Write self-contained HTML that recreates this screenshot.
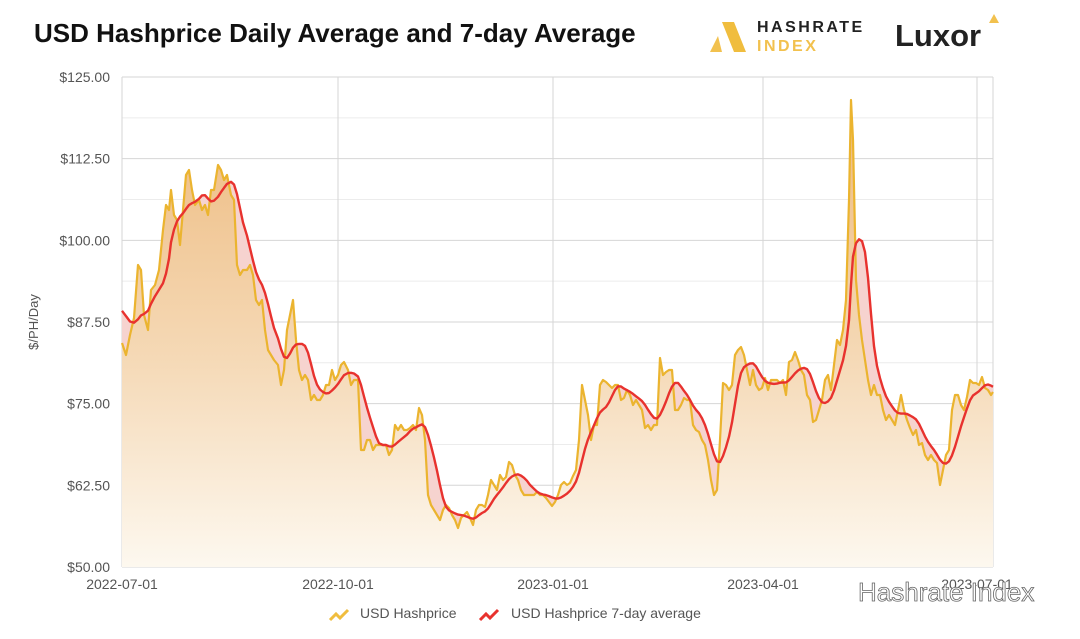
<!DOCTYPE html>
<html><head><meta charset="utf-8"><style>
body{margin:0;background:#fff;width:1080px;height:634px;overflow:hidden;font-family:"Liberation Sans",sans-serif}
</style></head><body>
<svg id="s" width="1080" height="634" xmlns="http://www.w3.org/2000/svg" font-family="Liberation Sans, sans-serif">
<defs>
<linearGradient id="g" gradientUnits="userSpaceOnUse" x1="0" y1="150" x2="0" y2="567">
<stop offset="0" stop-color="#efc089"/><stop offset="0.5" stop-color="#f5d9b6"/><stop offset="1" stop-color="#fdf8ef"/></linearGradient>
</defs>
<text x="34" y="42" font-size="26" font-weight="bold" fill="#111">USD Hashprice Daily Average and 7-day Average</text>
<polygon points="710,52 718,36 722,52" fill="#f2c14e"/><polygon points="722,22 734,22 746,52 734,52" fill="#f0bd3e"/>
<text x="757" y="32" font-size="16" font-weight="bold" fill="#222" letter-spacing="2.5">HASHRATE</text>
<text x="757" y="51" font-size="16" font-weight="bold" fill="#f2c14e" letter-spacing="2.5">INDEX</text>
<text x="895" y="46" font-size="31" font-weight="bold" fill="#222">Luxor</text>
<polygon points="989,23 994,14 999,23" fill="#f2c14e"/>
<g id="grid"></g>
<g id="plot"></g>
<text transform="translate(38,322) rotate(-90)" font-size="13" fill="#555" text-anchor="middle">$/PH/Day</text>
<g font-size="14" fill="#555">
<text x="122" y="589" text-anchor="middle">2022-07-01</text>
<text x="338" y="589" text-anchor="middle">2022-10-01</text>
<text x="553" y="589" text-anchor="middle">2023-01-01</text>
<text x="763" y="589" text-anchor="middle">2023-04-01</text>
<text x="977" y="589" text-anchor="middle">2023-07-01</text>
</g>
<text x="858" y="601" font-size="26" fill="#fff" stroke="#666" stroke-width="0.8">Hashrate Index</text>
<g font-size="14" fill="#555">
<path d="M330,620 l6,-6 l4,4 l8,-8" stroke="#f0bd3e" stroke-width="3" fill="none"/>
<text x="360" y="618">USD Hashprice</text>
<path d="M480,620 l6,-6 l4,4 l8,-8" stroke="#e8322e" stroke-width="3" fill="none"/>
<text x="511" y="618">USD Hashprice 7-day average</text>
</g>
</svg>
<script>
var NS="http://www.w3.org/2000/svg";
function el(p,t,a){var e=document.createElementNS(NS,t);for(var k in a)e.setAttribute(k,a[k]);p.appendChild(e);return e;}
var grid=document.getElementById('grid'),plot=document.getElementById('plot'),svg=document.getElementById('s');
var labels=["$125.00","$112.50","$100.00","$87.50","$75.00","$62.50","$50.00"];
for(var i=0;i<=12;i++){var y=77+i*40.83;el(grid,'line',{x1:122,x2:993,y1:y,y2:y,stroke:i%2?"#ececec":"#d6d6d6","stroke-width":1});
if(i%2==0){var t=el(svg,'text',{x:110,y:y+5,"font-size":14,fill:"#555","text-anchor":"end"});t.textContent=labels[i/2];}}
[122,338,553,763,977,993].forEach(function(x){el(grid,'line',{x1:x,x2:x,y1:77,y2:567,stroke:"#d6d6d6"});});
var d=[[122,343],[126,355],[130,335],[134,318],[138,265],[141,270],[144,315],[148,330],[151,290],[155,285],[159,270],[163,230],[166,205],[169,210],[171,190],[174,215],[177,220],[180,245],[183,210],[186,175],[189,170],[192,190],[195,205],[199,200],[202,210],[205,205],[208,215],[211,190],[214,190],[218,165],[221,170],[224,180],[227,175],[231,195],[234,200],[237,265],[240,275],[243,270],[247,270],[250,265],[253,275],[256,300],[259,305],[262,300],[265,330],[268,350],[271,355],[274,360],[278,365],[281,385],[284,370],[287,330],[290,315],[293,300],[296,340],[299,370],[302,380],[305,375],[308,380],[311,400],[314,395],[317,400],[320,400],[323,395],[326,385],[329,385],[332,370],[335,380],[338,375],[341,365],[344,362],[348,370],[351,385],[354,380],[358,380],[361,450],[364,450],[367,440],[370,440],[373,450],[376,445],[379,445],[383,445],[386,445],[389,455],[392,450],[395,425],[398,430],[401,425],[404,430],[407,430],[410,428],[413,425],[416,430],[419,408],[422,415],[425,440],[428,495],[431,505],[434,510],[437,515],[440,520],[443,510],[446,505],[449,508],[452,515],[455,520],[458,528],[461,518],[464,515],[467,512],[470,518],[473,525],[476,510],[479,505],[482,505],[485,507],[488,495],[491,480],[494,485],[497,490],[500,475],[503,480],[506,477],[509,462],[512,465],[515,475],[518,480],[521,490],[524,495],[527,495],[530,495],[534,495],[537,492],[540,495],[543,495],[546,498],[549,502],[552,506],[555,502],[558,495],[561,485],[564,482],[567,485],[570,483],[573,476],[576,470],[579,440],[582,385],[585,400],[588,415],[591,440],[594,425],[597,425],[600,385],[603,380],[606,382],[609,385],[612,388],[615,385],[618,385],[621,400],[624,398],[627,390],[630,395],[633,405],[636,400],[639,405],[642,410],[645,428],[648,425],[651,430],[654,425],[657,425],[660,358],[663,375],[666,372],[669,370],[672,370],[675,410],[678,410],[681,405],[684,398],[687,400],[690,400],[693,425],[696,430],[699,432],[702,440],[705,445],[708,460],[711,480],[714,495],[717,490],[720,440],[723,383],[726,385],[729,390],[732,385],[735,355],[738,350],[741,347],[744,355],[747,370],[750,385],[753,370],[756,385],[759,390],[762,388],[765,378],[768,390],[771,380],[774,380],[777,380],[780,383],[783,380],[786,395],[789,362],[792,360],[795,352],[798,360],[801,370],[804,375],[807,395],[810,400],[813,422],[816,420],[819,410],[822,400],[825,380],[828,375],[831,390],[834,365],[837,340],[840,345],[843,330],[846,300],[849,200],[851,100],[853,140],[856,280],[859,315],[862,340],[865,360],[868,380],[871,395],[874,385],[877,395],[880,395],[883,410],[886,420],[889,415],[892,420],[895,425],[898,410],[901,395],[904,410],[907,420],[910,428],[913,435],[916,430],[919,445],[922,443],[925,455],[928,460],[931,455],[934,460],[937,463],[940,485],[943,470],[946,455],[949,450],[952,410],[955,395],[958,395],[961,405],[964,410],[967,397],[970,380],[973,383],[976,383],[979,385],[982,377],[985,388],[988,390],[991,395],[993,392]];
var seed=[298,298,300,303,307,312];var all=seed.map(function(v){return [0,v]}).concat(d);
var r=[];for(var i=0;i<d.length;i++){var s=0,n=0;for(var j=i;j<i+7&&j<all.length;j++){s+=all[j][1];n++;}r.push([d[i][0],s/n]);}
var r2=r.map(function(p,i){var a=r[Math.max(0,i-1)][1],b=r[Math.min(r.length-1,i+1)][1];return [p[0],(a+2*p[1]+b)/4];});
function pts(a){return a.map(function(p){return p[0]+","+p[1].toFixed(1)}).join(" ");}
el(plot,'polygon',{points:"122,567 "+pts(r2)+" 993,567",fill:"#f6d3cf"});
el(plot,'polygon',{points:"122,567 "+pts(d)+" 993,567",fill:"url(#g)"});
el(plot,'polyline',{points:pts(d),fill:"none",stroke:"#ebb42f","stroke-width":2.2,"stroke-linejoin":"round"});
el(plot,'polyline',{points:pts(r2),fill:"none",stroke:"#e8322e","stroke-width":2.4,"stroke-linejoin":"round"});
</script>
</body></html>
